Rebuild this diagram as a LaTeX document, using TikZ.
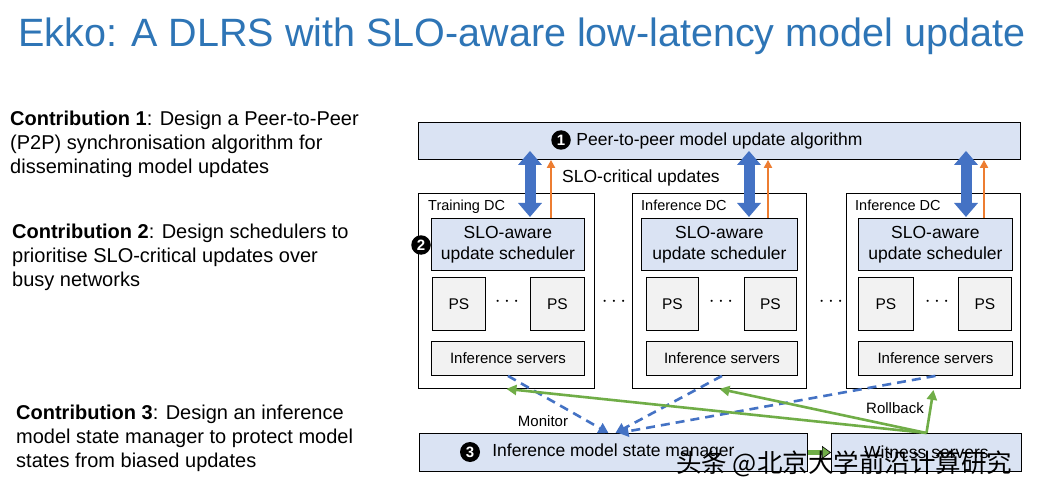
\documentclass[tikz,border=0pt]{standalone}
\usepackage{fontspec}
\setmainfont{Liberation Sans}
\newfontfamily\cjk{Noto Sans CJK SC}
\usepackage{pdfrender}
\usetikzlibrary{arrows.meta,calc}
\definecolor{ttl}{RGB}{46,117,182}
\definecolor{lblue}{RGB}{218,227,243}
\definecolor{lgray}{RGB}{242,242,242}
\definecolor{abl}{RGB}{68,114,196}
\definecolor{aor}{RGB}{237,125,49}
\definecolor{agr}{RGB}{112,173,71}
\newcommand\fsz[2]{\fontsize{#1}{#2}\selectfont}
\begin{document}
\begin{tikzpicture}[x=1pt,y=-1pt,
  box/.style={draw=black, line width=0.9pt, anchor=north west, inner sep=0pt},
  bluebox/.style={box, fill=lblue},
  graybox/.style={box, fill=lgray},
  num/.style={circle, fill=black, text=white, inner sep=0pt, minimum size=19.5pt, font=\bfseries\fsz{15}{15}},
  lbl/.style={inner sep=0pt, anchor=base west},
  para/.style={inner sep=0pt, anchor=base west, align=left, font=\fsz{20}{24}},
  dblarrow/.style={abl, line width=11pt, {Triangle[width=23pt,length=14pt]}-{Triangle[width=23pt,length=14pt]}},
  upar/.style={aor, line width=2.5pt, -{Triangle[width=8pt,length=8pt]}},
  grn/.style={agr, line width=2.6pt, -{Triangle[width=10pt,length=10pt]}},
  mon/.style={abl, line width=2.6pt, dash pattern=on 9pt off 6pt, -{Triangle[width=11pt,length=10pt]}},
  dotsn/.style={inner sep=0pt, font=\fsz{21}{21}}
]
\fill[white] (0,0) rectangle (1037,492);
\useasboundingbox (0,0) rectangle (1037,492);

% title
\node[lbl, text=ttl, font=\fsz{39.5}{40}] (title) at (18,47) {Ekko: A DLRS with SLO-aware low-latency model update};

% contributions (anchor = baseline of last line)
\node[para] (c1) at (10,174) {\textbf{Contribution 1}: Design a Peer-to-Peer\\(P2P) synchronisation algorithm for\\disseminating model updates};
\node[para] (c2) at (12,286) {\textbf{Contribution 2}: Design schedulers to\\prioritise SLO-critical updates over\\busy networks};
\node[para] (c3) at (16,467) {\textbf{Contribution 3}: Design an inference\\model state manager to protect model\\states from biased updates};

% top box
\node[bluebox, minimum width=602, minimum height=37, font=\fsz{17.5}{21}] (p2p) at (418,122) {Peer-to-peer model update algorithm};
\node[num] (n1) at (561,140) {1};

% data centres
\node[box, minimum width=176, minimum height=195] (dc1) at (418,193) {};
\node[box, minimum width=174, minimum height=195] (dc2) at (632,193) {};
\node[box, minimum width=174, minimum height=195] (dc3) at (846,193) {};
\node[lbl, font=\fsz{14.5}{16}] (l1) at (428,211) {Training DC};
\node[lbl, font=\fsz{14.5}{16}] (l2) at (641,211) {Inference DC};
\node[lbl, font=\fsz{14.5}{16}] (l3) at (855,211) {Inference DC};

% schedulers
\node[bluebox, minimum width=153, minimum height=52, align=center, font=\fsz{17.5}{21}] (sch1) at (431,218) {SLO-aware\\update scheduler};
\node[bluebox, minimum width=156, minimum height=52, align=center, font=\fsz{17.5}{21}] (sch2) at (641,218) {SLO-aware\\update scheduler};
\node[bluebox, minimum width=154, minimum height=52, align=center, font=\fsz{17.5}{21}] (sch3) at (858,218) {SLO-aware\\update scheduler};
\node[num] (n2) at (421,245) {2};

% parameter servers
\node[graybox, minimum width=53, minimum height=53, font=\fsz{15.5}{16}] (ps1a) at (432,277) {PS};
\node[graybox, minimum width=54, minimum height=53, font=\fsz{15.5}{16}] (ps1b) at (530,277) {PS};
\node[graybox, minimum width=52, minimum height=53, font=\fsz{15.5}{16}] (ps2a) at (646,277) {PS};
\node[graybox, minimum width=52, minimum height=53, font=\fsz{15.5}{16}] (ps2b) at (744,277) {PS};
\node[graybox, minimum width=55, minimum height=53, font=\fsz{15.5}{16}] (ps3a) at (858,277) {PS};
\node[graybox, minimum width=53, minimum height=53, font=\fsz{15.5}{16}] (ps3b) at (958,277) {PS};
\node[dotsn] (d1) at (507,302) {$\cdots$};
\node[dotsn] (d2) at (721,302) {$\cdots$};
\node[dotsn] (d3) at (937,302) {$\cdots$};
\node[dotsn] (d4) at (614,302) {$\cdots$};
\node[dotsn] (d5) at (831,302) {$\cdots$};

% inference servers
\node[graybox, minimum width=153, minimum height=34, font=\fsz{15}{16}] (inf1) at (431,341) {Inference servers};
\node[graybox, minimum width=151, minimum height=34, font=\fsz{15}{16}] (inf2) at (646,341) {Inference servers};
\node[graybox, minimum width=154, minimum height=34, font=\fsz{15}{16}] (inf3) at (858,341) {Inference servers};

% bottom boxes
\node[bluebox, minimum width=388, minimum height=38, font=\fsz{17.5}{21}] (mgr) at (419,433) {Inference model state manager};
\node[num, minimum size=20pt] (n3) at (470,452) {3};
\node[bluebox, minimum width=190, minimum height=38, font=\fsz{17.5}{21}] (wit) at (831,433) {Witness servers};

% vertical arrows
\coordinate (b1) at (530,0);
\coordinate (b2) at (749,0);
\coordinate (b3) at (966,0);
\coordinate (o1) at (551,0);
\coordinate (o2) at (768,0);
\coordinate (o3) at (984,0);
\draw[dblarrow] ([yshift=9pt]p2p.south -| b1) -- ([yshift=1pt]sch1.north -| b1);
\draw[dblarrow] ([yshift=9pt]p2p.south -| b2) -- ([yshift=1pt]sch2.north -| b2);
\draw[dblarrow] ([yshift=9pt]p2p.south -| b3) -- ([yshift=1pt]sch3.north -| b3);
\draw[upar] (sch1.north -| o1) -- (p2p.south -| o1);
\draw[upar] (sch2.north -| o2) -- (p2p.south -| o2);
\draw[upar] (sch3.north -| o3) -- (p2p.south -| o3);
\node[lbl, font=\fsz{17.5}{21}] (slo) at (562,183) {SLO-critical updates};

% monitor (dashed)
\draw[mon] (inf1.south) -- ([xshift=-5pt]mgr.north);
\draw[mon] (inf2.south) -- ([xshift=2pt]mgr.north);
\draw[mon] (inf3.south) -- ([xshift=5pt]mgr.north);
\node[inner sep=0pt, anchor=base, font=\fsz{15}{16}] (monl) at (543,426) {Monitor};

% rollback (green)
\draw[grn] (wit.north) -- (dc1.south);
\draw[grn] (wit.north) -- (dc2.south);
\draw[grn] (wit.north) -- ([yshift=-1pt]dc3.south);
\node[inner sep=0pt, anchor=base, font=\fsz{15}{16}] (rbl) at (895,413) {Rollback};
\draw[agr, line width=5pt, -{Triangle[width=13pt,length=9pt,fill=agr,color=black,line width=0.6pt]}] (mgr.east) -- (wit.west);

% watermark
\node[lbl, font=\cjk\fsz{25.5}{26}] (wm) at (676,472) {\textpdfrender{TextRenderingMode=FillStroke,LineWidth=0.9,FillColor=white,StrokeColor=black}{头条 @北京大学前沿计算研究}};
\end{tikzpicture}
\end{document}
